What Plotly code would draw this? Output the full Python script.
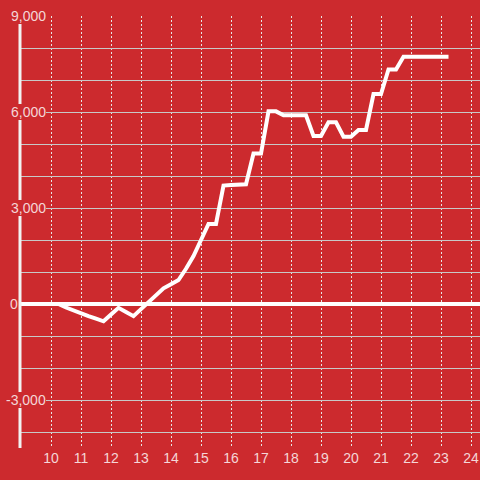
import plotly.graph_objects as go

# Data (hour of day, cumulative value)
hours = [9.0, 9.25, 9.5, 9.75, 10.0, 10.25, 10.5, 10.75, 11.0, 11.25, 11.5, 11.75,
         12.0, 12.25, 12.5, 12.75, 13.0, 13.25, 13.5, 13.75, 14.0, 14.25, 14.5, 14.75,
         15.0, 15.25, 15.5, 15.75, 16.0, 16.25, 16.5, 16.75, 17.0, 17.25, 17.5, 17.75,
         18.0, 18.25, 18.5, 18.75, 19.0, 19.25, 19.5, 19.75, 20.0, 20.25, 20.5, 20.75,
         21.0, 21.25, 21.5, 21.75, 22.0, 22.25, 22.5, 22.75, 23.0, 23.25]
values = [0, 0, 0, 0, 0, 0, -110, -210, -300, -380, -460, -540,
          -330, -120, -250, -380, -160, 60, 280, 490, 620, 750, 1100, 1500,
          2000, 2500, 2500, 3700, 3720, 3740, 3740, 4700, 4700, 6020, 6020, 5900,
          5900, 5900, 5900, 5250, 5250, 5680, 5680, 5230, 5230, 5440, 5440, 6560,
          6560, 7330, 7330, 7730, 7730, 7730, 7730, 7730, 7730, 7730]

x_ticks = list(range(10, 25))
y_label_vals = [-3000, 0, 3000, 6000, 9000]

BG = "#cc2a2e"
LABEL = "rgba(255,255,255,0.82)"
FONT = "Liberation Sans, Arial, sans-serif"

fig = go.Figure()
fig.add_trace(go.Scatter(
    x=hours, y=values, mode="lines",
    line=dict(color="white", width=4),
    hoverinfo="skip", showlegend=False,
))

W, H = 480, 480
ML, MR, MT, MB = 21, 0, 16, 32
pw = W - ML - MR

fig.update_layout(
    width=W, height=H,
    margin=dict(l=ML, r=MR, t=MT, b=MB, pad=0, autoexpand=False),
    paper_bgcolor=BG, plot_bgcolor=BG,
    font=dict(family=FONT, size=14, color=LABEL),
    xaxis=dict(
        range=[9, 9 + pw / 30.0],
        tickvals=x_ticks, ticktext=[str(v) for v in x_ticks],
        showgrid=True, gridcolor="#e6e6e6", gridwidth=1, griddash="2px,2px",
        zeroline=False, showline=False, ticks="",
        tickfont=dict(family=FONT, size=14, color=LABEL),
        automargin=False, fixedrange=True,
    ),
    yaxis=dict(
        range=[-4500, 9000],
        tickmode="linear", tick0=0, dtick=1000,
        showticklabels=False,
        showgrid=True, gridcolor="#c8c8c8", gridwidth=1,
        zeroline=True, zerolinecolor="white", zerolinewidth=4,
        showline=False, ticks="",
        automargin=False, fixedrange=True,
    ),
)

# vertical y axis line
xline = (20 - ML) / pw
fig.add_shape(type="line", xref="paper", yref="paper",
              x0=xline, x1=xline, y0=0, y1=1,
              line=dict(color="#f2f2f2", width=3), layer="above")

# y labels with background boxes
for v in y_label_vals:
    txt = f"{v:,}"
    if v == 0:
        xr = (18 - ML) / pw
    else:
        xr = (45.5 - ML) / pw
    fig.add_annotation(
        x=xr, xref="paper", y=v, yref="y",
        text=txt, showarrow=False, xanchor="right", yanchor="middle",
        bgcolor=BG, borderpad=0, borderwidth=0,
        font=dict(family=FONT, size=14, color=LABEL),
    )

fig.write_html(
    "out.html",
    config={"displayModeBar": False},
    post_script="document.body.style.margin='0';document.body.style.overflow='hidden';",
)
